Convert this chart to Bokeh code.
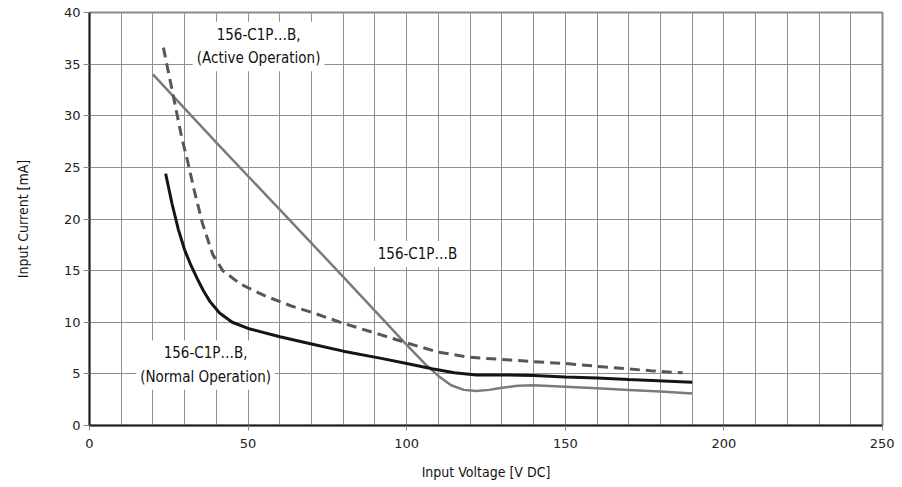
from bokeh.plotting import figure
from bokeh.models import SingleIntervalTicker, Label, Range1d
from bokeh.embed import file_html
from bokeh.resources import INLINE

# Series: 156-C1P...B (grey solid)
gray_x = [20, 40, 60, 80, 100, 106, 110, 114, 118, 122, 126, 130, 135, 140, 150, 160, 170, 180, 190]
gray_y = [34.0, 27.4, 20.9, 14.4, 7.8, 5.9, 4.8, 3.9, 3.45, 3.35, 3.45, 3.65, 3.85, 3.9, 3.75, 3.6, 3.45, 3.3, 3.1]

# Series: 156-C1P...B, (Normal Operation) (black solid)
normal_x = [24, 26, 28, 30, 32, 34, 36, 38, 41, 45, 50, 60, 70, 80, 92, 100, 108, 115, 122, 130, 140, 150, 160, 170, 190]
normal_y = [24.4, 21.5, 19.0, 17.0, 15.5, 14.2, 13.0, 12.0, 10.9, 10.0, 9.4, 8.6, 7.9, 7.2, 6.5, 6.0, 5.5, 5.1, 4.9, 4.9, 4.85, 4.7, 4.6, 4.45, 4.2]

# Series: 156-C1P...B, (Active Operation) (grey dashed)
active_x = [23.3, 26.5, 29, 31, 33, 35.6, 38.8, 42, 47.6, 55, 63.4, 70.6, 80, 91.7, 100, 110, 120, 130, 139, 150, 165, 177, 187]
active_y = [36.6, 31.8, 28.0, 25.5, 22.8, 19.6, 16.6, 15.0, 13.7, 12.6, 11.6, 10.9, 9.9, 8.8, 8.0, 7.1, 6.6, 6.4, 6.2, 6.0, 5.6, 5.3, 5.1]

x_label = "Input Voltage [V DC]"
y_label = "Input Current [mA]"

COND = "'Liberation Sans Narrow', 'DejaVu Sans Condensed', 'Roboto Condensed', sans-serif"
TICKF = "'DejaVu Sans', Verdana, sans-serif"

p = figure(width=894, height=483, output_backend="svg", toolbar_location=None,
           x_range=Range1d(0, 250), y_range=Range1d(0, 40),
           min_border_left=89, min_border_right=12, min_border_top=12, min_border_bottom=58)

p.background_fill_color = "white"
p.border_fill_color = "white"
p.outline_line_color = "#8a8a8a"
p.outline_line_width = 2

p.xaxis.ticker = SingleIntervalTicker(interval=50, num_minor_ticks=0)
p.yaxis.ticker = SingleIntervalTicker(interval=5, num_minor_ticks=0)
p.xgrid.ticker = SingleIntervalTicker(interval=10)
p.ygrid.ticker = SingleIntervalTicker(interval=5)
for g in (p.xgrid, p.ygrid):
    g.grid_line_color = "#8f8f8f"
    g.grid_line_width = 1
    g.grid_line_alpha = 1.0

for ax in (p.xaxis, p.yaxis):
    ax.axis_line_color = "#222222"
    ax.axis_line_width = 2
    ax.major_tick_line_color = "#888888"
    ax.major_tick_in = 0
    ax.minor_tick_line_color = None
    ax.major_label_text_font = TICKF
    ax.major_label_text_font_size = "13px"
    ax.major_label_text_color = "#222222"
    ax.axis_label_text_font = COND
    ax.axis_label_text_font_size = "14px"
    ax.axis_label_text_font_style = "normal"
    ax.axis_label_text_color = "#111111"

p.xaxis.major_tick_out = 5
p.xaxis.major_label_standoff = 8
p.xaxis.axis_label = x_label
p.xaxis.axis_label_standoff = 13
p.yaxis.major_tick_out = 6
p.yaxis.major_label_standoff = 3
p.yaxis.axis_label = y_label
p.yaxis.axis_label_standoff = 30

p.line(gray_x, gray_y, line_color="#7a7b7f", line_width=2.5)
p.line(active_x, active_y, line_color="#55575b", line_width=3, line_dash="10 6")
p.line(normal_x, normal_y, line_color="#151515", line_width=3)

def add_label(x, y, text):
    lab = Label(x=x, y=y, text=text, text_align="center", text_baseline="middle",
                text_font=COND, text_font_size="15px", text_color="#111111",
                background_fill_color="white", background_fill_alpha=1.0,
                padding=4, text_line_height=1.3)
    p.add_layout(lab)

add_label(53.3, 36.7, "156-C1P…B,\n(Active Operation)")
add_label(103.4, 16.6, "156-C1P…B")
add_label(36.6, 5.85, "156-C1P…B,\n(Normal Operation)")

open("out.html", "w").write(file_html(p, INLINE))
